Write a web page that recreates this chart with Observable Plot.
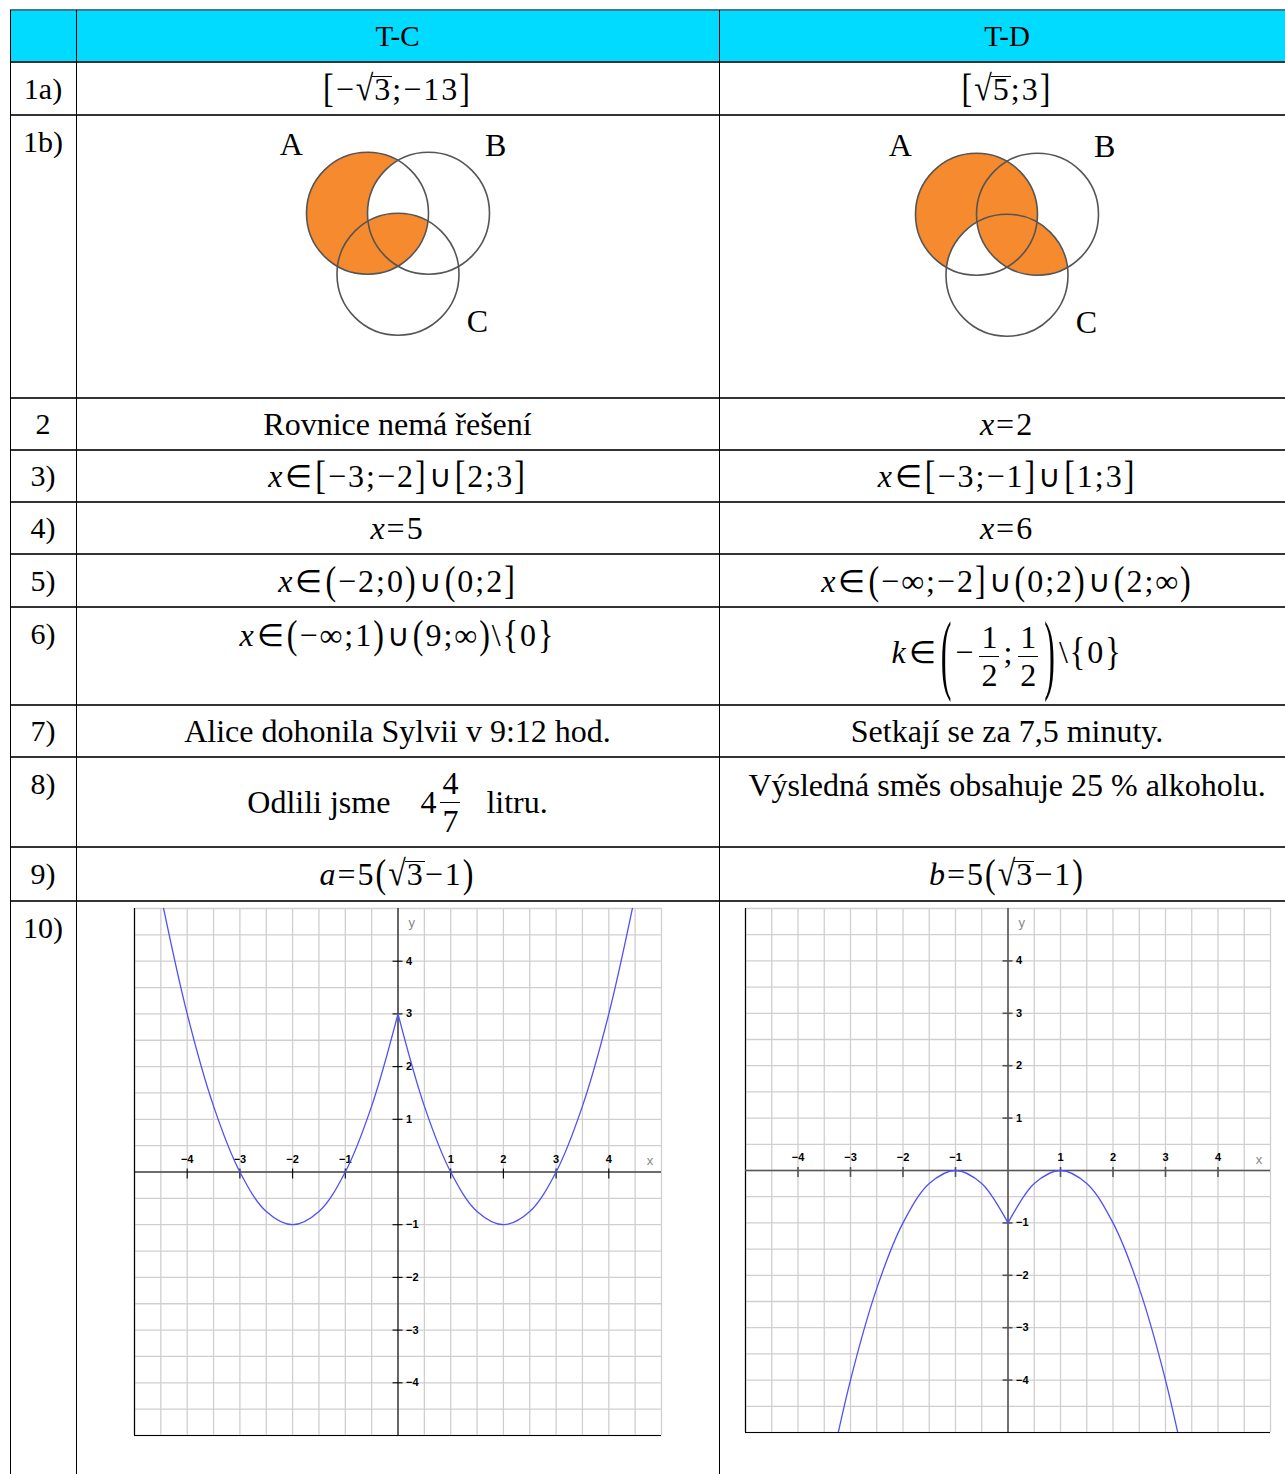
<!DOCTYPE html>
<html><head><meta charset="utf-8">
<script src="https://cdn.jsdelivr.net/npm/d3@7"></script>
<script src="https://cdn.jsdelivr.net/npm/@observablehq/plot@0.6"></script>
<style>
html,body{margin:0;padding:0;background:#fff;}
body{width:1285px;height:1474px;overflow:hidden;position:relative;font-family:"Liberation Serif","Times New Roman",serif;color:#000;}
.cell{position:absolute;display:flex;justify-content:center;box-sizing:border-box;line-height:1;white-space:nowrap;}
.mid{align-items:center;}
.top{align-items:flex-start;padding-top:12px;}
.lbl{font-size:30px;}
.hd{font-size:29px;}
.txt{font-size:32px;}
.m{letter-spacing:2px;}
.sy{font-family:"DejaVu Sans";font-weight:200;font-size:31px;margin:0 1px;}
.b{display:inline-block;transform:scaleY(1.22);}
.bp{display:inline-block;transform:scaleY(2.8);margin:0 2px;}
.rs{display:inline-block;transform:scaleY(1.12);transform-origin:50% 90%;}
.ov{display:inline-block;border-top:1.6px solid #000;margin-left:-3px;padding-left:2px;line-height:0.8;}
.fr{display:inline-flex;flex-direction:column;align-items:center;vertical-align:middle;line-height:1;letter-spacing:0;margin:0 4px;}
.fr .n{padding:0 2px 3px 2px;}
.fr .d{border-top:1.6px solid #000;padding:2px 2px 0 2px;}
.hl{position:absolute;background:#333;}
.vl{position:absolute;background:#000;}
.plotbox{position:absolute;}
.plotbox svg{max-width:none;}
</style>
</head><body>
<script>
// ---------- data ----------
const columnHeads = ["T-C", "T-D"];
const rowLabels = ["1a)", "1b)", "2", "3)", "4)", "5)", "6)", "7)", "8)", "9)", "10)"];
const tcAnswers = [
  `<span class="m"><span class="b">[</span>−<span class="rs">√</span><span class="ov">3</span>;−13<span class="b">]</span></span>`,
  null,
  `Rovnice nemá řešení`,
  `<span class="m"><i>x</i>∈<span class="b">[</span>−3;−2<span class="b">]</span>∪<span class="b">[</span>2;3<span class="b">]</span></span>`,
  `<span class="m"><i>x</i>=5</span>`,
  `<span class="m"><i>x</i>∈<span class="b">(</span>−2;0<span class="b">)</span>∪<span class="b">(</span>0;2<span class="b">]</span></span>`,
  `<span class="m"><i>x</i>∈<span class="b">(</span>−∞;1<span class="b">)</span>∪<span class="b">(</span>9;∞<span class="b">)</span>\\<span class="b">{</span>0<span class="b">}</span></span>`,
  `Alice dohonila Sylvii v 9:12 hod.`,
  `Odlili jsme<span style="margin-left:30px">4</span><span class="fr"><span class="n">4</span><span class="d">7</span></span><span style="margin-left:22px">litru.</span>`,
  `<span class="m"><i>a</i>=5<span class="b">(</span><span class="rs">√</span><span class="ov">3</span>−1<span class="b">)</span></span>`,
  null
];
const tdAnswers = [
  `<span class="m"><span class="b">[</span><span class="rs">√</span><span class="ov">5</span>;3<span class="b">]</span></span>`,
  null,
  `<span class="m"><i>x</i>=2</span>`,
  `<span class="m"><i>x</i>∈<span class="b">[</span>−3;−1<span class="b">]</span>∪<span class="b">[</span>1;3<span class="b">]</span></span>`,
  `<span class="m"><i>x</i>=6</span>`,
  `<span class="m"><i>x</i>∈<span class="b">(</span>−∞;−2<span class="b">]</span>∪<span class="b">(</span>0;2<span class="b">)</span>∪<span class="b">(</span>2;∞<span class="b">)</span></span>`,
  `<span class="m"><i>k</i>∈<span class="bp">(</span>−<span class="fr"><span class="n">1</span><span class="d">2</span></span>;<span class="fr"><span class="n">1</span><span class="d">2</span></span><span class="bp">)</span>\\<span class="b">{</span>0<span class="b">}</span></span>`,
  `Setkají se za 7,5 minuty.`,
  `Výsledná směs obsahuje 25 % alkoholu.`,
  `<span class="m"><i>b</i>=5<span class="b">(</span><span class="rs">√</span><span class="ov">3</span>−1<span class="b">)</span></span>`,
  null
];

// Venn: circle centres in units of the radius, label anchor points
const vennSets = [
  {set: "A", cx: 0,   cy: 0,  lx: -1.25, ly: 1.12},
  {set: "B", cx: 1,   cy: 0,  lx: 2.1,   ly: 1.1},
  {set: "C", cx: 0.5, cy: -1, lx: 1.8,   ly: -1.78}
];
// shaded regions, as membership rules
const vennShadeTC = (m) => m.A && (!m.B || m.C);
const vennShadeTD = (m) => (m.A && !m.C) || (m.B && m.C);

// graphs
const gridSteps = [-5,-4.5,-4,-3.5,-3,-2.5,-2,-1.5,-1,-0.5,0,0.5,1,1.5,2,2.5,3,3.5,4,4.5,5];
const axisTicks = [-4,-3,-2,-1,1,2,3,4];
const tcLeftBranch  = [[-4.5,5.25],[-4,3],[-3.5,1.25],[-3,0],[-2.5,-0.75],[-2,-1],[-1.5,-0.75],[-1,0],[-0.5,1.25],[0,3]];
const tcRightBranch = [[0,3],[0.5,1.25],[1,0],[1.5,-0.75],[2,-1],[2.5,-0.75],[3,0],[3.5,1.25],[4,3],[4.5,5.25]];
const tdLeftBranch  = [[-3.5,-6.25],[-3,-4],[-2.5,-2.25],[-2,-1],[-1.5,-0.25],[-1,0],[-0.5,-0.25],[0,-1]];
const tdRightBranch = [[0,-1],[0.5,-0.25],[1,0],[1.5,-0.25],[2,-1],[2.5,-2.25],[3,-4],[3.5,-6.25]];

// ---------- layout ----------
const rowEdges = [62,115,398,450,502,554,607,705,757,847,901,1474];
const colEdges = [10,76,719,1295];
const labelTopRows = new Set([1,6,8,10]);
const tcTopRows = new Set([6]);
const tdTopRows = new Set([8]);

const symbols = (html) => html == null ? html : html.replace(/[∈∪]/g, s => `<span class="sy">${s}</span>`);

function box(x0,x1,y0,y1,html,cls,top){
  const d = document.createElement("div");
  d.className = "cell " + cls + (top ? " top" : " mid");
  Object.assign(d.style,{left:x0+"px",width:(x1-x0)+"px",top:y0+"px",height:(y1-y0)+"px"});
  d.innerHTML = symbols(html);
  document.body.append(d);
  return d;
}
function rect(cls,x,y,w,h,color){
  const d = document.createElement("div");
  d.className = cls;
  Object.assign(d.style,{left:x+"px",top:y+"px",width:w+"px",height:h+"px"});
  if (color) d.style.background = color;
  document.body.append(d);
}

// header background
rect("hl",10,10,1285,52,"#00dbff");
box(colEdges[1],colEdges[2],10,62,columnHeads[0],"hd",false);
box(colEdges[2],colEdges[3],10,62,columnHeads[1],"hd",false);

rowLabels.forEach((lab,i)=>{
  const y0 = rowEdges[i], y1 = rowEdges[i+1];
  box(colEdges[0],colEdges[1],y0,y1,lab,"lbl",labelTopRows.has(i));
  if (tcAnswers[i] != null) box(colEdges[1],colEdges[2],y0,y1,tcAnswers[i],"txt",tcTopRows.has(i));
  if (tdAnswers[i] != null) box(colEdges[2],colEdges[3],y0,y1,tdAnswers[i],"txt",tdTopRows.has(i));
});

// grid lines of the table
rect("hl",10,9,1285,2,"#3c7d8c");
rowEdges.slice(0,-1).forEach(y=>rect("hl",10,y-1,1285,2,"#333"));
[10,76,719].forEach(x=>rect("vl",x,10,1,1464));

// ---------- Venn diagrams ----------
const orange = "#f68a2e";
function membership(x,y){
  const m = {};
  for (const s of vennSets) m[s.set] = (x-s.cx)**2 + (y-s.cy)**2 <= 1;
  return m;
}
function venn(shade){
  return Plot.plot({
    width: 305, height: 244, margin: 0,
    x: {domain: [-2, 3], axis: null},
    y: {domain: [-2.3, 1.7], axis: null},
    color: {type: "identity"},
    style: {background: "transparent", overflow: "visible"},
    marks: [
      Plot.raster({x1: -2, x2: 3, y1: -2.3, y2: 1.7, fill: (x, y) => shade(membership(x, y)) ? orange : null}),
      Plot.dot(vennSets, {x: "cx", y: "cy", r: 61, fill: "none", stroke: "#555", strokeWidth: 1.6}),
      Plot.text(vennSets, {x: "lx", y: "ly", text: "set", fontSize: 32, fontFamily: "Liberation Serif", fill: "#000"})
    ]
  });
}
function place(node,x,y){
  const w = document.createElement("div");
  w.className = "plotbox";
  w.style.left = x+"px"; w.style.top = y+"px";
  w.append(node);
  document.body.append(w);
}
place(venn(vennShadeTC), 245, 109);
place(venn(vennShadeTD), 854, 110);

// ---------- function graphs ----------
const fmt = d => d < 0 ? "\u2212" + (-d) : String(d);
function graph(branches, w, h, axisColor, axisWidth){
  const data = branches.flatMap(([name, pts]) => pts.map(([x, y]) => ({branch: name, x, y})));
  const lab = {fontWeight: "bold", fontSize: 11, fontFamily: "Liberation Sans", fill: "#000"};
  return Plot.plot({
    width: w, height: h, margin: 1,
    x: {domain: [-5, 5], axis: null},
    y: {domain: [-5, 5], axis: null},
    style: {background: "transparent", overflow: "visible"},
    marks: [
      Plot.ruleX(gridSteps, {stroke: "#cfcfcf", strokeWidth: 1.3}),
      Plot.ruleY(gridSteps, {stroke: "#cfcfcf", strokeWidth: 1.3}),
      Plot.ruleX([-5], {stroke: "#000", strokeWidth: 1.2}),
      Plot.ruleY([-5], {stroke: "#000", strokeWidth: 1.2}),
      Plot.ruleX([0], {stroke: axisColor, strokeWidth: axisWidth}),
      Plot.ruleY([0], {stroke: axisColor, strokeWidth: axisWidth}),
      Plot.ruleX(axisTicks, {x: d => d, y1: () => 0, y2: () => 0, insetTop: -3, insetBottom: -7, stroke: axisColor, strokeWidth: axisWidth}),
      Plot.ruleY(axisTicks, {y: d => d, x1: () => 0, x2: () => 0, insetLeft: -5, insetRight: -5, stroke: axisColor, strokeWidth: axisWidth}),
      Plot.text(axisTicks, {x: d => d, y: () => 0, dy: -13, text: fmt, ...lab}),
      Plot.text(axisTicks, {x: () => 0, y: d => d, dx: 8, textAnchor: "start", text: fmt, ...lab}),
      Plot.text(["x"], {x: () => 4.78, y: () => 0, dy: -11, text: d => d, fontSize: 13, fontFamily: "Liberation Sans", fill: "#888"}),
      Plot.text(["y"], {x: () => 0.26, y: () => 4.72, text: d => d, fontSize: 13, fontFamily: "Liberation Sans", fill: "#888"}),
      Plot.line(data, {x: "x", y: "y", z: "branch", curve: "catmull-rom", stroke: "#5050f5", strokeWidth: 1.3, clip: true})
    ]
  });
}
place(graph([["L", tcLeftBranch], ["R", tcRightBranch]], 529, 529, "#000", 1.1), 133, 907);
place(graph([["L", tdLeftBranch], ["R", tdRightBranch]], 527, 526, "#555", 1.6), 744, 907);
</script>
</body></html>
